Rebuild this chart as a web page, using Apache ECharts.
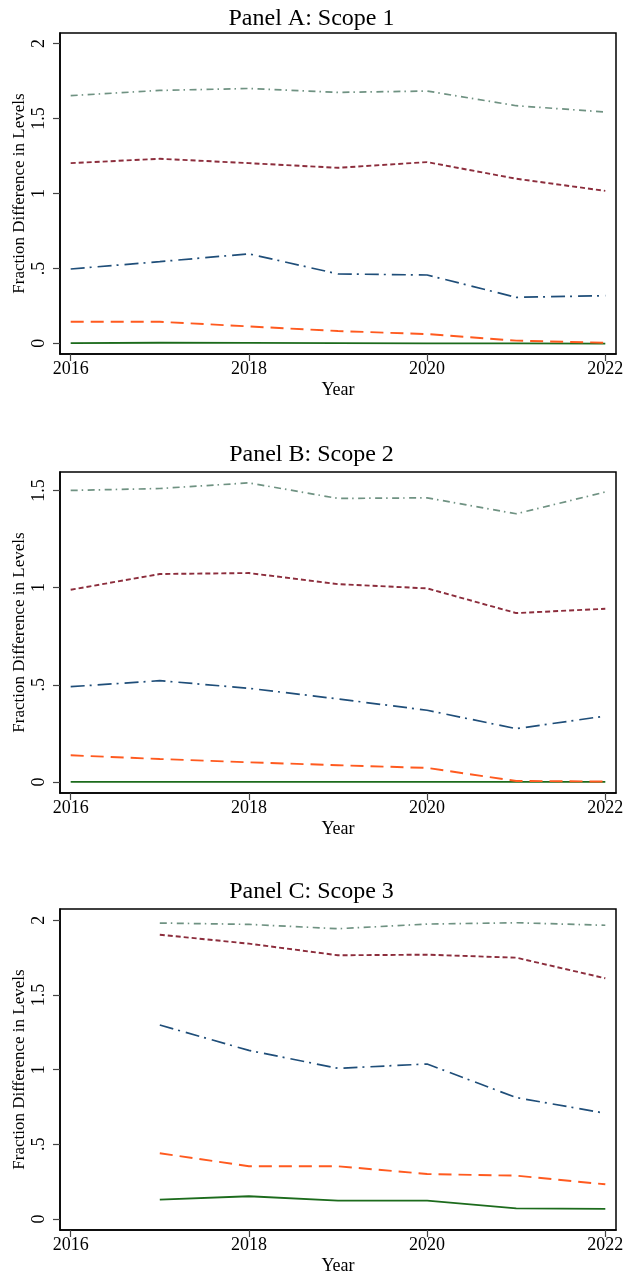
<!DOCTYPE html>
<html>
<head>
<meta charset="utf-8">
<script src="https://cdn.jsdelivr.net/npm/echarts@6.0.0/dist/echarts.min.js"></script>
<style>
  html, body { margin: 0; padding: 0; background: #fff; }
  #chart { width: 623px; height: 1279px; }
</style>
</head>
<body>
<div id="chart"></div>
<script>
// years on the x axis
const years = [2016, 2017, 2018, 2019, 2020, 2021, 2022];
const xTicks = [2016, 2018, 2020, 2022];

// Panel A: Scope 1
const scope1Green = [0.001, 0.004, 0.003, 0.001, 0, 0, -0.002];
const scope1Orange = [0.144, 0.144, 0.113, 0.082, 0.062, 0.018, 0.004];
const scope1Blue = [0.496, 0.545, 0.597, 0.463, 0.456, 0.307, 0.318];
const scope1Maroon = [1.202, 1.231, 1.202, 1.171, 1.209, 1.098, 1.017];
const scope1Gray = [1.652, 1.687, 1.700, 1.674, 1.683, 1.585, 1.543];
const scope1Ticks = [0, 0.5, 1, 1.5, 2];

// Panel B: Scope 2
const scope2Green = [0, 0, 0, 0, 0, 0, 0];
const scope2Orange = [0.137, 0.118, 0.101, 0.086, 0.072, 0.005, 0.002];
const scope2Blue = [0.490, 0.521, 0.482, 0.427, 0.369, 0.274, 0.339];
const scope2Maroon = [0.989, 1.070, 1.075, 1.018, 0.996, 0.869, 0.891];
const scope2Gray = [1.500, 1.510, 1.539, 1.459, 1.462, 1.380, 1.492];
const scope2Ticks = [0, 0.5, 1, 1.5];

// Panel C: Scope 3 (no 2016 value)
const scope3Green = [null, 0.129, 0.152, 0.123, 0.123, 0.071, 0.067];
const scope3Orange = [null, 0.440, 0.353, 0.353, 0.301, 0.290, 0.232];
const scope3Blue = [null, 1.299, 1.129, 1.009, 1.038, 0.813, 0.708];
const scope3Maroon = [null, 1.904, 1.844, 1.766, 1.770, 1.750, 1.612];
const scope3Gray = [null, 1.982, 1.973, 1.944, 1.975, 1.984, 1.967];
const scope3Ticks = [0, 0.5, 1, 1.5, 2];

const FONT = '"Liberation Serif", "Times New Roman", serif';

const lineStyles = [
  { name: 'green', color: '#1c6b1c', type: 'solid', width: 1.8 },
  { name: 'orange', color: '#ff5a1f', type: [13, 7], width: 1.9 },
  { name: 'blue', color: '#1f4e79', type: [14, 5, 2, 6], width: 1.7 },
  { name: 'maroon', color: '#8c2d3c', type: [5, 3], width: 1.9 },
  { name: 'gray', color: '#6f9282', type: [7, 4, 1.5, 4.5], width: 1.7 },
];

const panels = [
  {
    title: 'Panel A: Scope 1', titleTop: 2, top: 33, yMin: -0.071, yMax: 2.07,
    ticks: scope1Ticks, series: [scope1Green, scope1Orange, scope1Blue, scope1Maroon, scope1Gray],
  },
  {
    title: 'Panel B: Scope 2', titleTop: 438, top: 472, yMin: -0.057, yMax: 1.595,
    ticks: scope2Ticks, series: [scope2Green, scope2Orange, scope2Blue, scope2Maroon, scope2Gray],
  },
  {
    title: 'Panel C: Scope 3', titleTop: 875, top: 909, yMin: -0.074, yMax: 2.076,
    ticks: scope3Ticks, series: [scope3Green, scope3Orange, scope3Blue, scope3Maroon, scope3Gray],
  },
];

function formatTick(v) {
  if (v === 0.5) return '.5';
  return String(v);
}

function buildOption() {
  const title = [];
  const grid = [];
  const xAxis = [];
  const yAxis = [];
  const series = [];

  panels.forEach((p, i) => {
    title.push({
      text: p.title,
      left: 'center',
      top: p.titleTop,
      textStyle: { fontFamily: FONT, fontSize: 24, fontWeight: 'normal', color: '#000' },
    });
    grid.push({
      left: 60, right: 7, top: p.top, height: 321,
      outerBoundsMode: 'none',
      containLabel: false,
      show: true, borderColor: '#000', borderWidth: 1.5, backgroundColor: '#fff',
    });
    xAxis.push({
      type: 'value',
      gridIndex: i,
      min: 2015.88,
      max: 2022.12,
      name: 'Year',
      nameLocation: 'middle',
      nameGap: 27,
      nameMoveOverlap: false,
      nameTextStyle: { fontFamily: FONT, fontSize: 18, color: '#000' },
      axisLine: { show: true, onZero: false, lineStyle: { color: '#000', width: 1.5 } },
      axisTick: { show: true, length: 7, customValues: xTicks, lineStyle: { color: '#444', width: 1.2 } },
      axisLabel: {
        customValues: xTicks, margin: 6, fontFamily: FONT, fontSize: 18, color: '#000',
        formatter: (v) => String(v),
      },
      splitLine: { show: false },
    });
    yAxis.push({
      type: 'value',
      gridIndex: i,
      min: p.yMin,
      max: p.yMax,
      name: 'Fraction Difference in Levels',
      nameLocation: 'middle',
      nameGap: 32,
      nameRotate: 90,
      nameMoveOverlap: false,
      nameTextStyle: { fontFamily: FONT, fontSize: 17, color: '#000' },
      axisLine: { show: true, onZero: false, lineStyle: { color: '#000', width: 1.5 } },
      axisTick: { show: true, length: 7, customValues: p.ticks, lineStyle: { color: '#444', width: 1.2 } },
      axisLabel: {
        customValues: p.ticks, rotate: 90, margin: 12,
        fontFamily: FONT, fontSize: 18, color: '#000', formatter: formatTick,
      },
      splitLine: { show: false },
    });
    p.series.forEach((values, k) => {
      const st = lineStyles[k];
      series.push({
        name: st.name,
        type: 'line',
        xAxisIndex: i,
        yAxisIndex: i,
        showSymbol: false,
        silent: true,
        data: years.map((y, j) => [y, values[j]]),
        lineStyle: { color: st.color, type: st.type, width: st.width },
      });
    });
  });

  return {
    backgroundColor: '#fff',
    animation: false,
    title, grid, xAxis, yAxis, series,
  };
}

const chart = echarts.init(document.getElementById('chart'), null, { renderer: 'canvas' });
chart.setOption(buildOption());
</script>
</body>
</html>
